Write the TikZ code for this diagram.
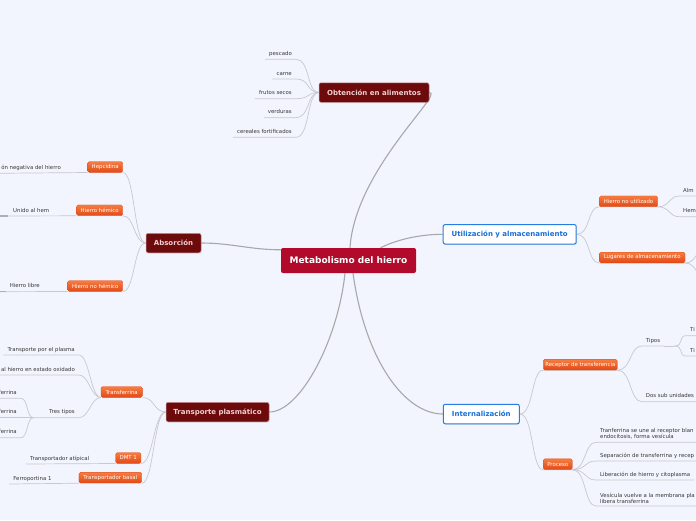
\documentclass[tikz,border=0pt]{standalone}
\usepackage{fontspec}
\setmainfont{DejaVu Sans}
\usetikzlibrary{backgrounds,shadows}
\definecolor{pagebg}{RGB}{242,245,253}
\definecolor{rootred}{RGB}{178,10,43}
\definecolor{mainred}{RGB}{108,10,12}
\definecolor{mainedge}{RGB}{200,150,150}
\definecolor{maintext}{RGB}{242,208,208}
\definecolor{bluedge}{RGB}{40,125,225}
\definecolor{bluetext}{RGB}{25,110,215}
\definecolor{orangetop}{RGB}{246,125,65}
\definecolor{orangebot}{RGB}{226,72,22}
\definecolor{leafgray}{RGB}{55,55,55}
\definecolor{trunkgray}{RGB}{168,168,170}
\definecolor{twiggray}{RGB}{200,200,206}
\definecolor{stubgray}{RGB}{175,175,180}
\begin{document}
\begin{tikzpicture}[x=1pt, y=-1pt,
      rootbox/.style={fill=rootred, rounded corners=2pt, text=white, font=\fontsize{9}{10}\selectfont\bfseries, minimum height=25pt, inner sep=0pt},
      mainbox/.style={fill=mainred, draw=mainedge, line width=0.5pt, rounded corners=2pt, text=maintext, font=\fontsize{7}{8}\selectfont\bfseries, minimum height=19.5pt, inner sep=0pt, drop shadow={opacity=0.2, shadow xshift=0.6pt, shadow yshift=-0.8pt}},
      bluebox/.style={fill=white, draw=bluedge, line width=1pt, rounded corners=2pt, text=bluetext, font=\fontsize{7}{8}\selectfont\bfseries, minimum height=19.5pt, inner sep=0pt, drop shadow={opacity=0.2, shadow xshift=0.6pt, shadow yshift=-0.8pt}},
      subbox/.style={top color=orangetop, bottom color=orangebot, draw=orangebot, line width=0.3pt, rounded corners=1.5pt, text=white, font=\fontsize{5.4}{6}\selectfont, minimum height=10.7pt, inner sep=0pt},
      leaftext/.style={text=leafgray, font=\fontsize{5.4}{6}\selectfont, inner xsep=4pt, inner ysep=2.5pt},
      leaf/.style={leaftext, text height=4pt, text depth=1.2pt},
      twoline/.style={leaftext, align=left},
      trunk/.style={draw=trunkgray, line width=1.1pt},
      twig/.style={draw=twiggray, line width=0.7pt}]
    \useasboundingbox (0,0) rectangle (696,520);
    \node[rootbox, minimum width=135pt] (root) at (348.5,260.5) {Metabolismo del hierro};
    \node[mainbox, minimum width=110pt] (food) at (374,92.5) {Obtención en alimentos};
    \node[mainbox, minimum width=55pt] (abs) at (173.5,243) {Absorción};
    \node[mainbox, minimum width=103pt] (plasma) at (217.5,412) {Transporte plasmático};
    \node[bluebox, minimum width=133pt] (store) at (509.7,234.3) {Utilización y almacenamiento};
    \node[bluebox, minimum width=76pt] (intern) at (481.3,414) {Internalización};
    \node[leaf, anchor=south east] (fish) at (296,59.3) {pescado};
    \node[leaf, anchor=south east] (meat) at (296,79) {carne};
    \node[leaf, anchor=south east] (nuts) at (296,98.7) {frutos secos};
    \node[leaf, anchor=south east] (veg) at (296,117.7) {verduras};
    \node[leaf, anchor=south east] (cereal) at (296,137.3) {cereales fortificados};
    \node[subbox, minimum width=35pt] (hepc) at (105.2,167) {Hepcidina};
    \node[subbox, minimum width=46pt] (hemic) at (99.7,210.3) {Hierro hémico};
    \node[subbox, minimum width=55pt] (nohemic) at (95.2,286) {Hierro no hémico};
    \node[leaf, anchor=south east] (negreg) at (65,173.3) {ón negativa del hierro};
    \node[leaf, anchor=south east] (bound) at (53.3,216) {Unido al hem};
    \node[leaf, anchor=south east] (freefe) at (44,291.7) {Hierro libre};
    \coordinate (boundin) at (0,216);
    \coordinate (freein) at (0,291.7);
    \node[subbox, minimum width=41.3pt] (trf) at (121.7,392) {Transferrina};
    \node[subbox, minimum width=25.3pt] (dmt) at (128.3,458) {DMT 1};
    \node[subbox, minimum width=62.7pt] (basal) at (110.3,477.7) {Transportador basal};
    \node[leaf, anchor=south east] (carry) at (79,355) {Transporte por el plasma};
    \node[leaf, anchor=south east] (oxid) at (79,375) {al hierro en estado oxidado};
    \node[leaf, anchor=south east] (kinds) at (79,417.7) {Tres tipos};
    \node[leaf, anchor=south east] (kindA) at (21,398.3) {ferrina};
    \node[leaf, anchor=south east] (kindB) at (21,417.7) {ferrina};
    \node[leaf, anchor=south east] (kindC) at (21,437.7) {ferrina};
    \node[leaf, anchor=south east] (atyp) at (93.3,464) {Transportador atípical};
    \node[leaf, anchor=south east] (ferro) at (55.7,484) {Ferroportina 1};
    \node[subbox, minimum width=58.4pt] (unused) at (628.5,201.3) {Hierro no utilizado};
    \node[subbox, minimum width=85.7pt] (places) at (642.2,257.5) {Lugares de almacenamiento};
    \node[leaf, anchor=south west] (almc) at (679,196) {Alm};
    \node[leaf, anchor=south west] (hemo) at (679,216.7) {Hem};
    \coordinate (placesup) at (708,247);
    \coordinate (placesdn) at (708,279);
    \node[subbox, minimum width=74pt] (recep) at (580.3,364.7) {Receptor de transferencia};
    \node[subbox, minimum width=29pt] (proc) at (557.8,464.2) {Proceso};
    \node[leaf, anchor=south west] (tipos) at (641.7,346) {Tipos};
    \node[leaf, anchor=south west] (typeA) at (686,335.7) {Ti};
    \node[leaf, anchor=south west] (typeB) at (686,356) {Ti};
    \node[leaf, anchor=south west] (subunits) at (641.7,401.7) {Dos sub unidades};
    \node[twoline, anchor=south west] (stepA) at (596,442.3) {Tranferrina se une al receptor blan\\endocitosis, forma vesícula};
    \node[leaf, anchor=south west] (stepB) at (596,461) {Separación de transferrina y recep};
    \node[leaf, anchor=south west] (stepC) at (596,480) {Liberación de hierro y citoplasma};
    \node[twoline, anchor=south west] (stepD) at (596,506) {Vesícula vuelve a la membrana pla\\libera transferrina};
    \begin{scope}[on background layer]
      \fill[pagebg] (0,0) rectangle (696,520);
      \draw[trunk] ([xshift=1.5pt]root.north) .. controls +(5,-78) and +(16,0) .. (food.east);
      \draw[trunk] (abs.east) .. controls +(30,0) and +(-30,0) .. ([yshift=-2pt]root.north west);
      \draw[trunk] ([xshift=-3.5pt]root.south) .. controls +(-7,67) and +(31,0) .. (plasma.east);
      \draw[trunk] ([xshift=32pt]root.north) .. controls +(20,-10) and +(-18,0) .. (store.west);
      \draw[trunk] ([xshift=4.5pt]root.south) .. controls +(12,87) and +(-38,0) .. (intern.west);
      \foreach \n in {fish,meat,nuts,veg,cereal}
        \draw[twig] (\n.south west) -- (\n.south east) .. controls +(14,0) and +(-12,0) .. (food.west);
      \foreach \n in {hepc,hemic,nohemic}
        \draw[twig] (\n.south east) .. controls +(12,0) and +(-12,0) .. (abs.west);
      \draw[twig] (negreg.south west) -- (hepc.south west);
      \draw[twig] (boundin) -- (hemic.south west);
      \draw[twig] (freein) -- (nohemic.south west);
      \draw[stubgray, line width=1.2pt] (boundin) -- +(8,0);
      \draw[stubgray, line width=1.2pt] (freein) -- +(6,0);
      \foreach \n in {trf,dmt,basal}
        \draw[twig] (\n.south east) .. controls +(12,0) and +(-12,0) .. (plasma.west);
      \foreach \n in {carry,oxid}
        \draw[twig] (\n.south west) -- (\n.south east) .. controls +(10,0) and +(-10,0) .. (trf.south west);
      \draw[twig] ([xshift=-11.5pt]kinds.south west) -- (kinds.south east) .. controls +(10,0) and +(-10,0) .. (trf.south west);
      \foreach \n in {kindA,kindB,kindC}
        \draw[twig] (\n.south west) -- (\n.south east) .. controls +(7,0) and +(-7,0) .. ([xshift=-11.5pt]kinds.south west);
      \draw[twig] (atyp.south west) -- (dmt.south west);
      \draw[twig] (ferro.south west) -- (basal.south west);
      \foreach \n in {unused,places}
        \draw[twig] (store.east) .. controls +(14,0) and +(-12,0) .. (\n.south west) -- (\n.south east);
      \foreach \n in {almc,hemo}
        \draw[twig] (unused.south east) .. controls +(12,0) and +(-10,0) .. (\n.south west) -- (\n.south east);
      \foreach \n in {placesup,placesdn}
        \draw[twig] (places.south east) .. controls +(12,0) and +(-12,0) .. (\n);
      \foreach \n in {recep,proc}
        \draw[twig] (intern.east) .. controls +(14,0) and +(-12,0) .. (\n.south west) -- (\n.south east);
      \foreach \n in {tipos,subunits}
        \draw[twig] (recep.south east) .. controls +(14,0) and +(-12,0) .. (\n.south west) -- (\n.south east);
      \draw[twig] (tipos.south east) -- ++(10,0);
      \foreach \n in {typeA,typeB}
        \draw[twig] ([xshift=10pt]tipos.south east) .. controls +(10,0) and +(-8,0) .. (\n.south west) -- (\n.south east);
      \foreach \n in {stepA,stepB,stepC,stepD}
        \draw[twig] (proc.south east) .. controls +(14,0) and +(-12,0) .. (\n.south west) -- (\n.south east);
    \end{scope}
\end{tikzpicture}
\end{document}
